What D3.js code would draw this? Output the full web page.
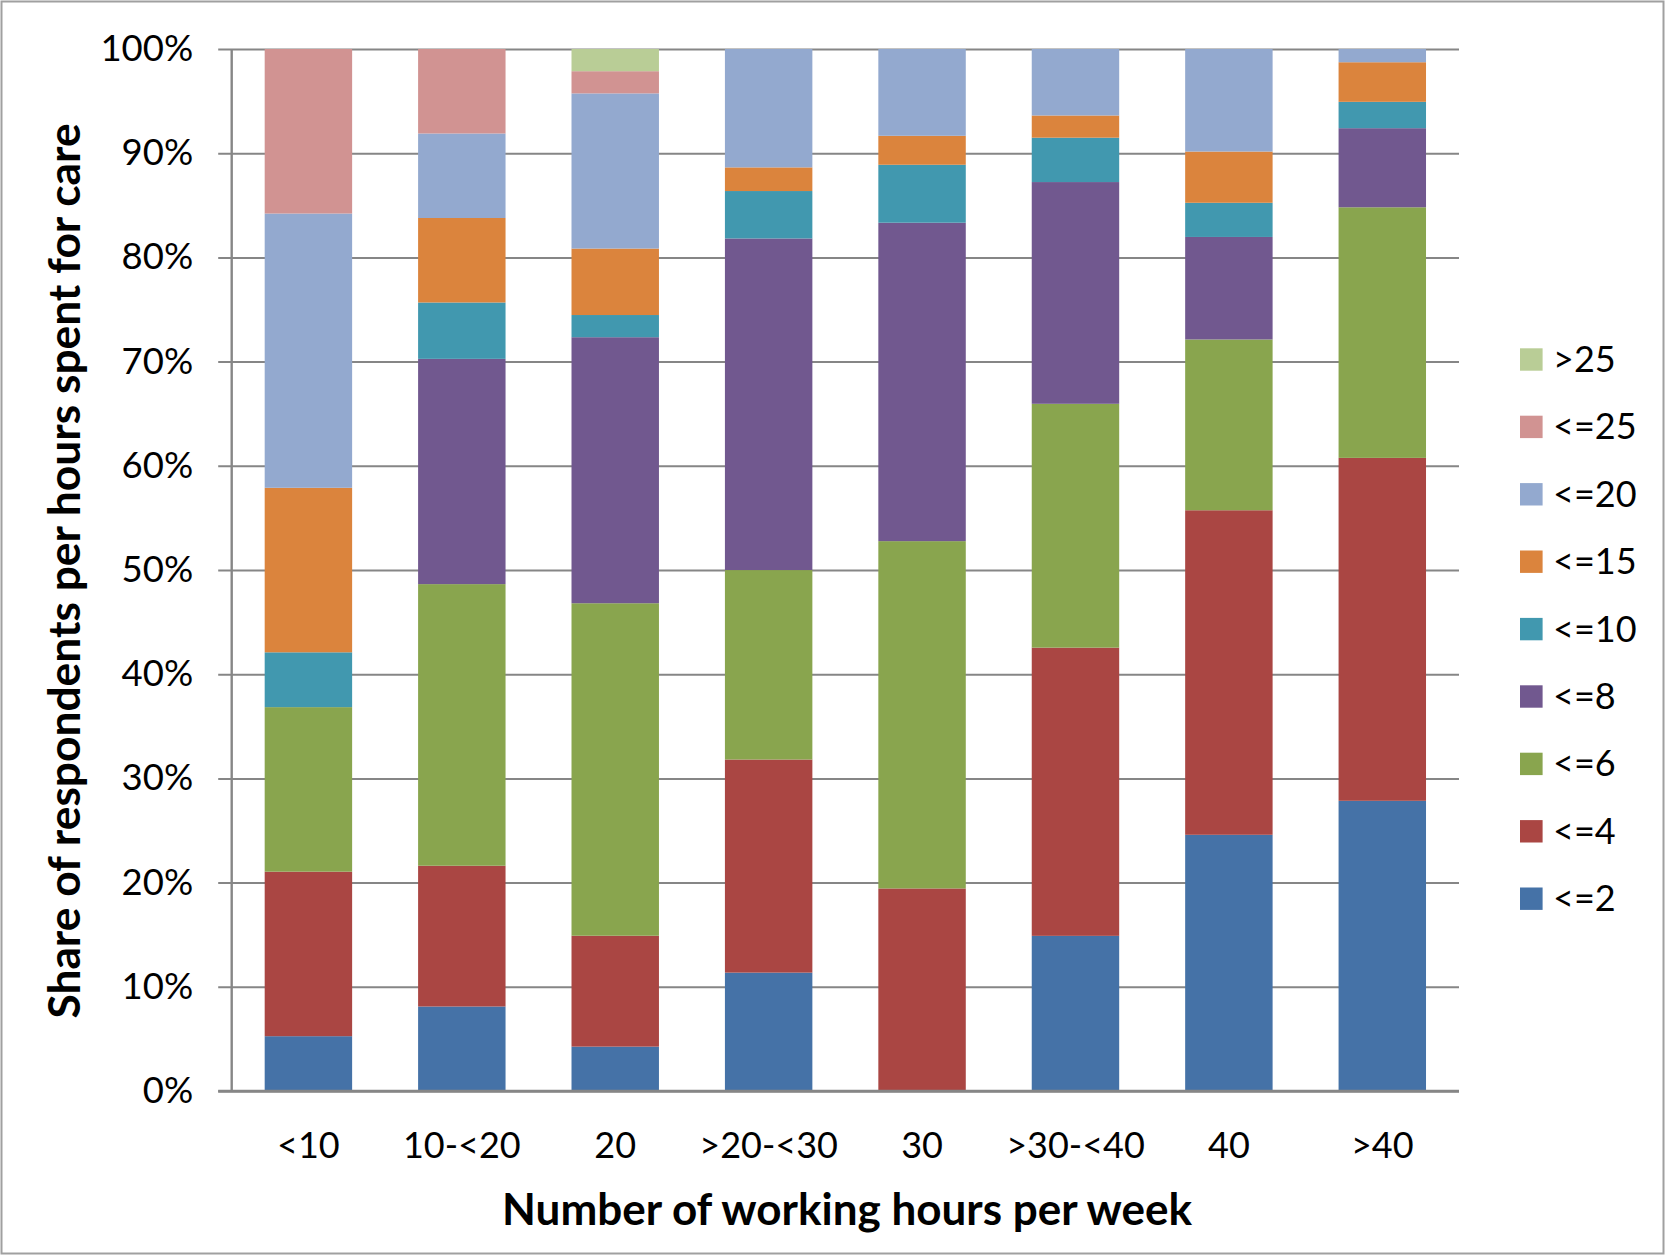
<!DOCTYPE html>
<html>
<head>
<meta charset="utf-8">
<script src="https://cdn.jsdelivr.net/npm/d3@7"></script>
<style>
  html, body { margin: 0; padding: 0; background: #fff; }
  text { font-family: Lato, "Open Sans", sans-serif; fill: #000; }
</style>
</head>
<body>
<svg id="chart"></svg>
<script>
// categories on the x axis
const categories = ["<10", "10-<20", "20", ">20-<30", "30", ">30-<40", "40", ">40"];

// series (hours spent for care), bottom to top
const seriesNames = ["<=2", "<=4", "<=6", "<=8", "<=10", "<=15", "<=20", "<=25", ">25"];
const seriesColors = ["#4572A7", "#AA4643", "#89A54E", "#71588F", "#4198AF", "#DB843D", "#93A9CF", "#D19392", "#B9CD96"];

// share of respondents (%) per category
const le2  = [5.26, 8.11, 4.26, 11.36, 0, 14.89, 24.59, 27.85];
const le4  = [15.79, 13.51, 10.64, 20.45, 19.44, 27.66, 31.15, 32.91];
const le6  = [15.79, 27.03, 31.91, 18.18, 33.33, 23.40, 16.39, 24.05];
const le8  = [0, 21.62, 25.53, 31.82, 30.56, 21.28, 9.84, 7.59];
const le10 = [5.26, 5.41, 2.13, 4.55, 5.56, 4.26, 3.28, 2.53];
const le15 = [15.79, 8.11, 6.38, 2.27, 2.78, 2.13, 4.92, 3.80];
const le20 = [26.32, 8.11, 14.89, 11.36, 8.33, 6.38, 9.84, 1.27];
const le25 = [15.79, 8.11, 2.13, 0, 0, 0, 0, 0];
const gt25 = [0, 0, 2.13, 0, 0, 0, 0, 0];

const yTicks = [0, 0.1, 0.2, 0.3, 0.4, 0.5, 0.6, 0.7, 0.8, 0.9, 1];

const xTitle = "Number of working hours per week";
const yTitle = "Share of respondents per hours spent for care";

const W = 1665, H = 1255;
const plot = { left: 231.7, right: 1459, top: 49, bottom: 1091 };
const gridColor = "#868686";

function draw() {
    const seriesValues = [le2, le4, le6, le8, le10, le15, le20, le25, gt25];

    // build rows for d3.stack
    const rows = categories.map((c, i) => {
        const row = { category: c };
        seriesNames.forEach((s, j) => { row[s] = seriesValues[j][i]; });
        return row;
    });

    const stacked = d3.stack()
        .keys(seriesNames)
        .offset(d3.stackOffsetExpand)(rows);

    const svg = d3.select("#chart")
        .attr("width", W)
        .attr("height", H);

    svg.append("rect")
        .attr("x", 0).attr("y", 0)
        .attr("width", W).attr("height", H)
        .attr("fill", "#fff");

    // outer frame
    svg.append("rect")
        .attr("x", 1.5).attr("y", 1.5)
        .attr("width", W - 3).attr("height", H - 3)
        .attr("fill", "none")
        .attr("stroke", "#a0a0a0")
        .attr("stroke-width", 2);

    const x = d3.scaleBand()
        .domain(categories)
        .range([plot.left, plot.right])
        .paddingInner(0.43)
        .paddingOuter(0.215);

    const y = d3.scaleLinear()
        .domain([0, 1])
        .range([plot.bottom, plot.top]);

    // y axis with gridlines
    const tickOut = 13.5;
    const yAxis = svg.append("g")
        .attr("transform", `translate(${plot.left - tickOut},0)`)
        .call(d3.axisLeft(y)
            .tickValues(yTicks)
            .tickFormat(d3.format(".0%"))
            .tickSize(-(plot.right - plot.left + tickOut))
            .tickPadding(25));
    yAxis.select(".domain").remove();
    yAxis.selectAll(".tick line")
        .attr("stroke", gridColor)
        .attr("stroke-width", d => d === 0 ? 2.6 : 2);
    yAxis.selectAll(".tick text")
        .attr("dy", null)
        .attr("y", 11.5)
        .style("font-size", "36.5px")
        .attr("fill", "#000");

    // bars
    svg.append("g")
        .selectAll("g")
        .data(stacked)
        .enter().append("g")
        .attr("fill", (d, i) => seriesColors[i])
        .selectAll("rect")
        .data(d => d)
        .enter().append("rect")
        .attr("x", d => x(d.data.category))
        .attr("y", d => y(d[1]))
        .attr("width", x.bandwidth())
        .attr("height", d => y(d[0]) - y(d[1]));

    // axis lines on top
    svg.append("line")
        .attr("x1", plot.left).attr("x2", plot.left)
        .attr("y1", plot.top).attr("y2", plot.bottom)
        .attr("stroke", gridColor)
        .attr("stroke-width", 2.4);
    svg.append("line")
        .attr("x1", plot.left - tickOut).attr("x2", plot.right)
        .attr("y1", plot.bottom).attr("y2", plot.bottom)
        .attr("stroke", gridColor)
        .attr("stroke-width", 2.6);

    // x axis labels
    const xAxis = svg.append("g")
        .attr("transform", `translate(0,${plot.bottom})`)
        .call(d3.axisBottom(x).tickSize(0));
    xAxis.select(".domain").remove();
    xAxis.selectAll(".tick text")
        .attr("dy", null)
        .attr("y", 66.5)
        .style("font-size", "36px")
        .attr("fill", "#000");

    // axis titles
    svg.append("text")
        .attr("x", 847)
        .attr("y", 1225)
        .attr("text-anchor", "middle")
        .style("font-size", "44px")
        .style("font-weight", "bold")
        .text(xTitle);

    svg.append("text")
        .attr("transform", "translate(80,571) rotate(-90)")
        .attr("text-anchor", "middle")
        .style("font-size", "44.3px")
        .style("font-weight", "bold")
        .text(yTitle);

    // legend, top item is the last series
    const legendItems = seriesNames.map((s, i) => ({ name: s, color: seriesColors[i] })).reverse();
    const legend = svg.append("g")
        .selectAll("g")
        .data(legendItems)
        .enter().append("g")
        .attr("transform", (d, i) => `translate(1520,${359.5 + i * 67.4})`);
    legend.append("rect")
        .attr("x", 0).attr("y", -11.2)
        .attr("width", 22.6).attr("height", 22.4)
        .attr("fill", d => d.color);
    legend.append("text")
        .attr("x", 33)
        .attr("y", 12.5)
        .style("font-size", "36px")
        .text(d => d.name);
}

draw();
</script>
</body>
</html>
